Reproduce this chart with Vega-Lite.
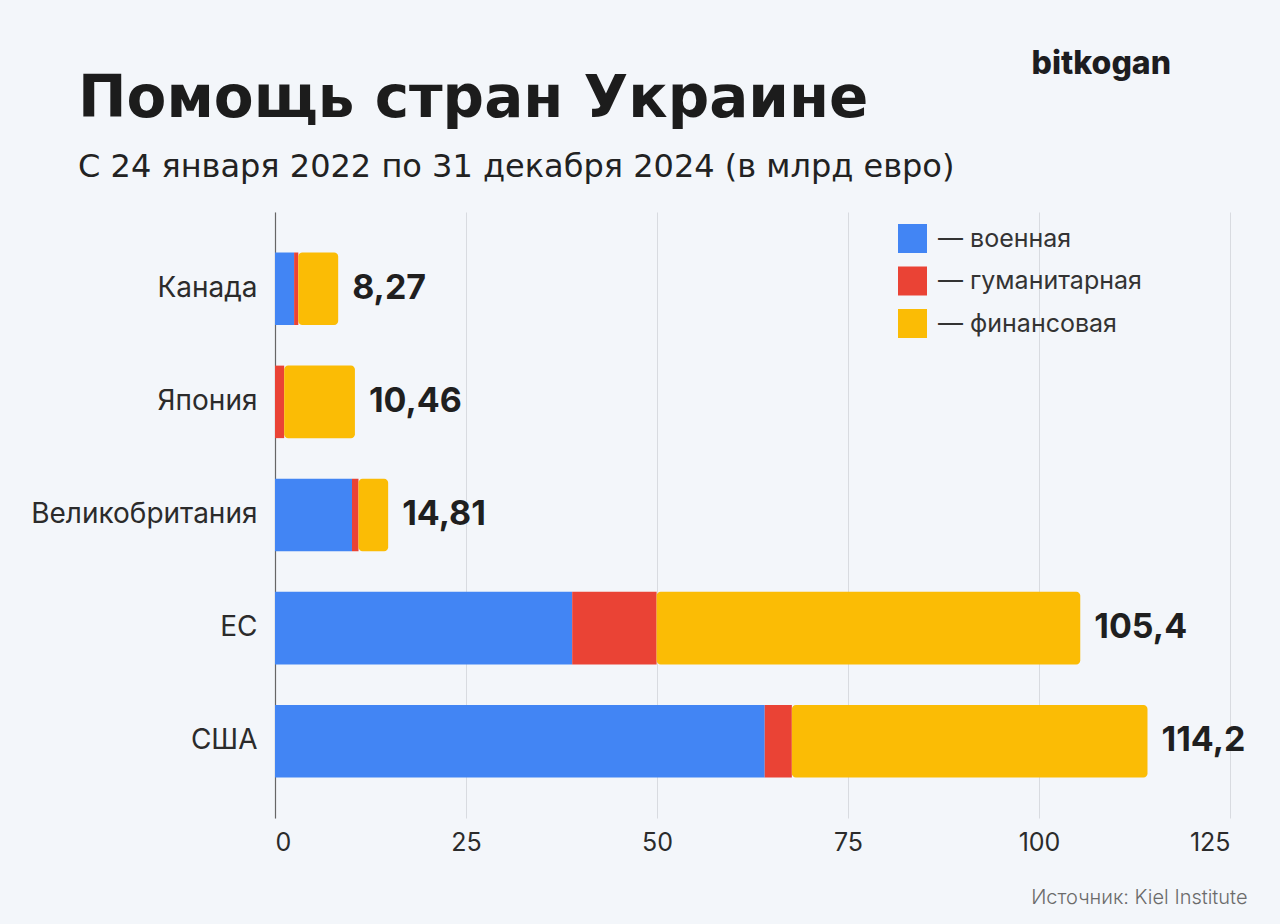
{
  "$schema": "https://vega.github.io/schema/vega-lite/v6.json",
  "width": 955,
  "height": 606,
  "autosize": {"type": "none"},
  "padding": {"left": 275, "top": 212, "right": 50, "bottom": 106},
  "background": "#f3f6fa",
  "config": {
    "view": {"stroke": null},
    "font": "Inter",
    "locale": {"number": {"decimal": ",", "thousands": " ", "grouping": [3], "currency": ["", " €"]}}
  },
  "title": {
    "text": "Помощь стран Украине",
    "subtitle": "С 24 января 2022 по 31 декабря 2024 (в млрд евро)",
    "anchor": "start",
    "frame": "group",
    "dx": -197,
    "offset": -136,
    "font": "DejaVu Sans",
    "fontSize": 58,
    "fontWeight": 700,
    "color": "#1c1c1c",
    "subtitleFont": "DejaVu Sans",
    "subtitleFontSize": 32,
    "subtitleFontWeight": 400,
    "subtitleColor": "#222222",
    "subtitlePadding": 23
  },
  "data": {
    "values": [
      {"country": "Канада", "type": "военная", "value": 2.5},
      {"country": "Канада", "type": "гуманитарная", "value": 0.55},
      {"country": "Канада", "type": "финансовая", "value": 5.22},
      {"country": "Япония", "type": "военная", "value": 0},
      {"country": "Япония", "type": "гуманитарная", "value": 1.2},
      {"country": "Япония", "type": "финансовая", "value": 9.26},
      {"country": "Великобритания", "type": "военная", "value": 10.08},
      {"country": "Великобритания", "type": "гуманитарная", "value": 0.85},
      {"country": "Великобритания", "type": "финансовая", "value": 3.88},
      {"country": "ЕС", "type": "военная", "value": 38.9},
      {"country": "ЕС", "type": "гуманитарная", "value": 11.05},
      {"country": "ЕС", "type": "финансовая", "value": 55.45},
      {"country": "США", "type": "военная", "value": 64.1},
      {"country": "США", "type": "гуманитарная", "value": 3.55},
      {"country": "США", "type": "финансовая", "value": 46.55}
    ]
  },
  "transform": [
    {"stack": "value", "groupby": ["country"], "sort": [{"field": "type", "order": "ascending"}], "as": ["x0", "x1"]}
  ],
  "encoding": {
    "y": {
      "field": "country",
      "type": "nominal",
      "sort": ["Канада", "Япония", "Великобритания", "ЕС", "США"],
      "scale": {"paddingInner": 0.359, "paddingOuter": 0.358},
      "axis": {
        "title": "bitkogan",
        "titleAngle": 0,
        "titleX": 756,
        "titleY": -139,
        "titleAlign": "left",
        "titleBaseline": "alphabetic",
        "titleFont": "Inter",
        "titleFontSize": 32,
        "titleFontWeight": 800,
        "titleColor": "#1d1d1f",
        "labelFont": "Inter",
        "labelFontSize": 28,
        "labelLimit": 0,
        "labelColor": "#2b2b2b",
        "labelPadding": 18,
        "ticks": false,
        "grid": false,
        "domain": true,
        "domainColor": "#666666",
        "domainWidth": 1.2
      }
    }
  },
  "layer": [
    {
      "transform": [{"filter": "datum.type !== 'финансовая'"}],
      "mark": {"type": "bar"},
      "encoding": {
        "x": {
          "field": "x0",
          "type": "quantitative",
          "title": "Источник: Kiel Institute",
          "scale": {"domain": [0, 125], "nice": false},
          "axis": {
            "values": [0, 25, 50, 75, 100, 125],
            "grid": true,
            "gridColor": "#d8dbe0",
            "gridWidth": 1,
            "domain": false,
            "ticks": false,
            "labelFont": "Inter",
            "labelFontSize": 25,
            "labelColor": "#2b2b2b",
            "labelPadding": 12,
            "titleX": 972,
            "titleY": 85,
            "titleAlign": "right",
            "titleBaseline": "alphabetic",
            "titleFont": "Inter",
            "titleFontSize": 20,
            "titleFontWeight": 300,
            "titleColor": "#6b6b6b"
          }
        },
        "x2": {"field": "x1"},
        "color": {
          "field": "type",
          "type": "nominal",
          "scale": {"domain": ["военная", "гуманитарная", "финансовая"], "range": ["#4285f4", "#ea4335", "#fbbc05"]},
          "legend": {
            "orient": "none",
            "legendX": 623,
            "legendY": 12,
            "title": null,
            "padding": 0,
            "symbolType": "square",
            "symbolSize": 841,
            "symbolStrokeWidth": 0,
            "symbolOpacity": 1,
            "labelFont": "Inter",
            "labelFontSize": 25,
            "labelLimit": 0,
            "labelColor": "#333333",
            "labelOffset": 11,
            "rowPadding": 13.5,
            "labelExpr": "'— ' + datum.label"
          }
        }
      }
    },
    {
      "transform": [{"filter": "datum.type === 'финансовая'"}],
      "mark": {"type": "bar", "cornerRadiusEnd": 4},
      "encoding": {
        "x": {"field": "x0", "type": "quantitative", "title": "Источник: Kiel Institute"},
        "x2": {"field": "x1"},
        "color": {"field": "type", "type": "nominal"}
      }
    },
    {
      "mark": {"type": "text", "align": "left", "baseline": "middle", "dx": 14, "font": "Inter", "fontSize": 34, "fontWeight": 700, "color": "#1f1f1f"},
      "encoding": {
        "x": {"aggregate": "max", "field": "x1", "type": "quantitative", "title": "Источник: Kiel Institute"},
        "text": {"aggregate": "sum", "field": "value", "type": "quantitative", "format": ".4~r"}
      }
    }
  ]
}
